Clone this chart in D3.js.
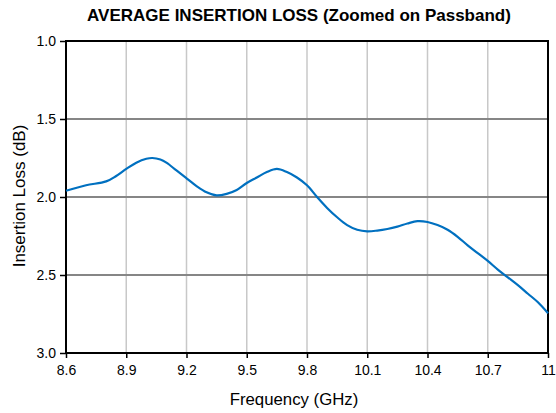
<!DOCTYPE html>
<html><head><meta charset="utf-8">
<script src="https://cdn.jsdelivr.net/npm/d3@7"></script>
<style>body{margin:0;background:#fff;}svg{display:block;font-family:"Liberation Sans",Arial,sans-serif;}</style>
</head><body>
<script>
const freq = [8.60,8.70,8.80,8.85,8.90,8.95,9.00,9.03,9.07,9.10,9.15,9.20,9.25,9.30,9.35,9.40,9.45,9.50,9.55,9.60,9.65,9.70,9.75,9.80,9.85,9.90,9.95,10.00,10.05,10.10,10.15,10.20,10.25,10.30,10.35,10.40,10.45,10.50,10.55,10.60,10.65,10.70,10.75,10.80,10.85,10.90,10.95,11.00];
const loss = [1.96,1.925,1.90,1.865,1.82,1.78,1.755,1.75,1.76,1.78,1.83,1.88,1.93,1.97,1.99,1.98,1.955,1.91,1.875,1.84,1.82,1.84,1.875,1.925,2.0,2.07,2.13,2.18,2.21,2.22,2.215,2.205,2.19,2.17,2.155,2.16,2.18,2.21,2.255,2.31,2.36,2.41,2.465,2.515,2.565,2.62,2.675,2.745];
const xTicks = [8.6,8.9,9.2,9.5,9.8,10.1,10.4,10.7,11];
const yTicks = [1.0,1.5,2.0,2.5,3.0];

const W=556,H=413, L=66,R=548,T=41,B=353;
const svg=d3.select("body").append("svg").attr("width",W).attr("height",H);
const x=d3.scaleLinear().domain([8.6,11]).range([L,R]);
const y=d3.scaleLinear().domain([1.0,3.0]).range([T,B]);

// vertical grid
svg.append("g").selectAll("line").data(xTicks.slice(1,-1)).join("line")
  .attr("x1",d=>x(d)).attr("x2",d=>x(d)).attr("y1",T).attr("y2",B)
  .attr("stroke","#c8c8c8").attr("stroke-width",1.5);
// horizontal grid
svg.append("g").selectAll("line").data(yTicks.slice(1,-1)).join("line")
  .attr("x1",L).attr("x2",R).attr("y1",d=>y(d)).attr("y2",d=>y(d))
  .attr("stroke","#868686").attr("stroke-width",2);

// axes
const ya=svg.append("g").attr("transform",`translate(${L},0)`)
  .call(d3.axisLeft(y).tickValues(yTicks).tickFormat(d3.format(".1f")).tickSize(6).tickPadding(4));
const xa=svg.append("g").attr("transform",`translate(0,${B})`)
  .call(d3.axisBottom(x).tickValues(xTicks).tickFormat(d=>d===11?"11":d3.format(".1f")(d)).tickSize(5).tickPadding(7));
[ya,xa].forEach(g=>{g.select(".domain").remove();g.selectAll("text").attr("font-size",14).attr("fill","#000").attr("font-family","Liberation Sans, Arial, sans-serif");g.selectAll("line").attr("stroke","#000").attr("stroke-width",1.5);});

// frame
svg.append("rect").attr("x",L).attr("y",T).attr("width",R-L).attr("height",B-T)
  .attr("fill","none").attr("stroke","#000").attr("stroke-width",2);

// line
const pts=freq.map((f,i)=>[f,loss[i]]);
svg.append("path").datum(pts)
  .attr("d",d3.line().x(d=>x(d[0])).y(d=>y(d[1])).curve(d3.curveCatmullRom))
  .attr("fill","none").attr("stroke","#0070C0").attr("stroke-width",2.2);

// titles
svg.append("text").attr("x",299).attr("y",21).attr("text-anchor","middle")
  .attr("font-size",17).attr("font-weight","bold").text("AVERAGE INSERTION LOSS (Zoomed on Passband)");
svg.append("text").attr("x",294).attr("y",405).attr("text-anchor","middle")
  .attr("font-size",16.8).text("Frequency (GHz)");
svg.append("text").attr("transform","translate(25,196) rotate(-90)").attr("text-anchor","middle")
  .attr("font-size",17).text("Insertion Loss (dB)");
</script>
</body></html>
